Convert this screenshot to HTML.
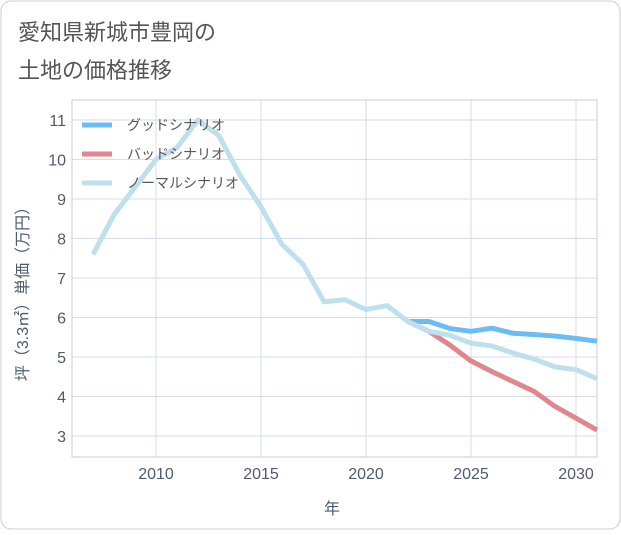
<!DOCTYPE html>
<html><head><meta charset="utf-8"><style>
body{margin:0;background:#fff;}
svg text{font-family:"Liberation Sans","Noto Sans CJK JP",sans-serif;}
</style></head><body>
<svg width="621" height="530" xmlns="http://www.w3.org/2000/svg">
<rect x="1" y="1" width="619" height="528" rx="10" fill="#fff" stroke="#ccc"/>
<text x="18" y="40" font-size="22" fill="#555">愛知県新城市豊岡の</text>
<text x="18" y="78" font-size="22" fill="#555">土地の価格推移</text>
<rect x="72" y="100" width="525" height="357" fill="#fff" stroke="#ccc"/>
<g id="grid"></g>
<g id="series"></g>
<g id="legend"></g>
<text x="332" y="514" font-size="16" fill="#4d5b6e" text-anchor="middle">年</text>
<text transform="translate(28,290) rotate(-90)" font-size="16" fill="#4d5b6e" text-anchor="middle">坪（3.3㎡）単価（万円）</text>
</svg>
<script>
const years=[2007,2008,2009,2010,2011,2012,2013,2014,2015,2016,2017,2018,2019,2020,2021,2022,2023,2024,2025,2026,2027,2028,2029,2030,2031];
const normal=[7.6,8.6,9.3,10.0,10.3,11.0,10.6,9.6,8.8,7.85,7.35,6.4,6.45,6.2,6.3,5.9,5.65,5.55,5.35,5.28,5.1,4.95,4.75,4.68,4.45];
const goodYears=[2022,2023,2024,2025,2026,2027,2028,2029,2030,2031];
const good=[5.9,5.9,5.72,5.65,5.73,5.6,5.57,5.53,5.47,5.4];
const bad=[5.9,5.65,5.3,4.9,4.63,4.38,4.13,3.75,3.45,3.15];
const xTicks=[2010,2015,2020,2025,2030];
const yTicks=[3,4,5,6,7,8,9,10,11];
const legendLabels=["グッドシナリオ","バッドシナリオ","ノーマルシナリオ"];
const NS="http://www.w3.org/2000/svg";
const X=y=>156+(y-2010)*21;
const Y=v=>436-(v-3)*39.5;
function mk(tag,attrs,parent){const e=document.createElementNS(NS,tag);for(const k in attrs)e.setAttribute(k,attrs[k]);parent.appendChild(e);return e;}
const grid=document.getElementById('grid');
xTicks.forEach(t=>{
  const l=mk('line',{x1:X(t),x2:X(t),y1:100,y2:457,stroke:'#d5dde8'},grid);
  
  
  const tx=mk('text',{x:X(t),y:479,'font-size':16,fill:'#4d5b6e','text-anchor':'middle'},grid);
  tx.textContent=t;
  
  
});
yTicks.forEach(t=>{
  const l=mk('line',{x1:72,x2:597,y1:Y(t),y2:Y(t),stroke:'#d5dde8'},grid);
  
  
  const tx=mk('text',{x:66,y:Y(t)+6,'font-size':16,fill:'#4d5b6e','text-anchor':'end'},grid);
  tx.textContent=t;
  
  
});
const ser=document.getElementById('series');
function line(xs,vs,color,name){
  const p=mk('polyline',{points:xs.map((y,i)=>X(y)+','+Y(vs[i])).join(' '),fill:'none',stroke:color,'stroke-width':5,'stroke-linejoin':'round'},ser);
  
  
}
line(goodYears,good,'#6bbcf2','good-scenario-line');
line(goodYears,bad,'#e0868e','bad-scenario-line');
line(years,normal,'#bde0ec','normal-scenario-line');
const leg=document.getElementById('legend');
const cols=['#6bbcf2','#e0868e','#bde0ec'];
legendLabels.forEach((s,i)=>{
  const y=125+i*29;
  const l=mk('line',{x1:82,x2:112,y1:y,y2:y,stroke:cols[i],'stroke-width':5},leg);
  
  
  const t=mk('text',{x:127,y:y+5,'font-size':14,fill:'#555'},leg);
  t.textContent=s;
  
  
});
</script>
</body></html>
